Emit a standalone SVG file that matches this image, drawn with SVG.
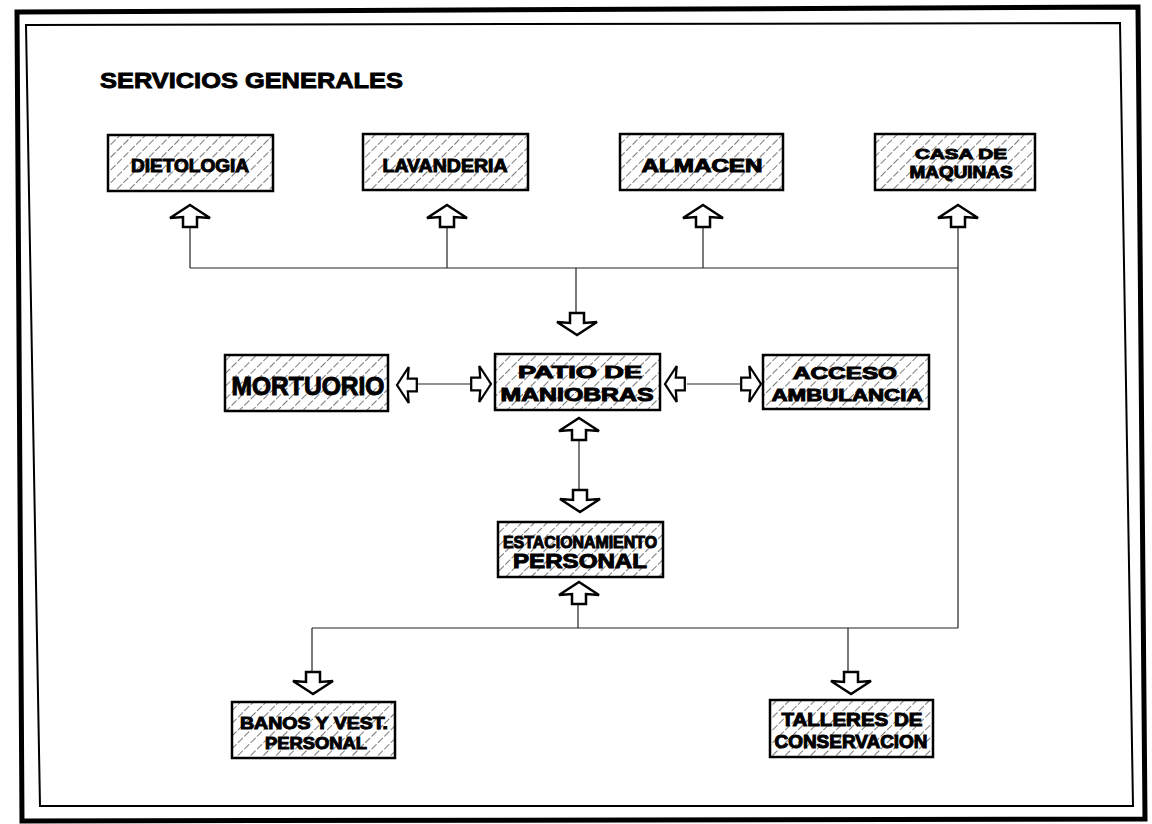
<svg xmlns="http://www.w3.org/2000/svg" width="1152" height="824" viewBox="0 0 1152 824">
<style>
.box{fill:url(#hatch);stroke:#000;stroke-width:2.5}
.lbl{font-family:"Liberation Sans",Arial,sans-serif;font-weight:bold;fill:#000;stroke:#000;stroke-width:1;text-anchor:middle}
.title{font-family:"Liberation Sans",Arial,sans-serif;font-weight:bold;font-size:22px;fill:#000;stroke:#000;stroke-width:0.9}
.ln{stroke:#222;stroke-width:1.2;fill:none}
.arr{fill:#fff;stroke:#000;stroke-width:2.5;stroke-linejoin:miter}
</style>
<defs>
<pattern id="hatch" patternUnits="userSpaceOnUse" width="9" height="9" patternTransform="rotate(45)">
<rect width="9" height="9" fill="#fff"/>
<line x1="0" y1="0" x2="0" y2="9" stroke="#222" stroke-width="1.2" stroke-dasharray="6 2"/>
</pattern>
<path id="au" d="M0,0 L20,13 L7,12 L7,22 L-7,22 L-7,12 L-20,13 Z"/>
</defs>
<rect width="1152" height="824" fill="#fff"/>
<polygon points="17,12 1138,7 1145,819 22,821" fill="none" stroke="#000" stroke-width="5"/>
<polygon points="26,25 1120,23 1133,806 40,806" fill="none" stroke="#000" stroke-width="2"/>
<text class="title" x="100" y="88" textLength="303" lengthAdjust="spacingAndGlyphs">SERVICIOS GENERALES</text>

<g id="connectors">
<path class="ln" d="M190,227 V268 M447,227 V268 M703,227 V268 M190,268 H958 M958,227 V628 M576,268 V313"/>
<path class="ln" d="M579,440 V490 M578,604 V628 M312,628 H958 M312,628 V672 M848,628 V672"/>
<path class="ln" d="M418,384 H470 M687,384 H740"/>
<g class="arr">
<use href="#au" transform="translate(190,205)"/>
<use href="#au" transform="translate(447,205)"/>
<use href="#au" transform="translate(703,205)"/>
<use href="#au" transform="translate(958,205)"/>
<use href="#au" transform="translate(577,335) rotate(180)"/>
<use href="#au" transform="translate(579,418)"/>
<use href="#au" transform="translate(580,512) rotate(180)"/>
<use href="#au" transform="translate(579,582)"/>
<use href="#au" transform="translate(313,694) rotate(180)"/>
<use href="#au" transform="translate(851,694) rotate(180)"/>
<use href="#au" transform="translate(397,385) rotate(-90) scale(0.9)"/>
<use href="#au" transform="translate(491,384) rotate(90) scale(0.9)"/>
<use href="#au" transform="translate(665,384) rotate(-90) scale(0.9)"/>
<use href="#au" transform="translate(761,384) rotate(90) scale(0.9)"/>
</g>
</g>

<g id="dietologia">
<rect class="box" x="108" y="135" width="165" height="56"/>
<text class="lbl" x="190" y="172" font-size="18" textLength="118" lengthAdjust="spacingAndGlyphs">DIETOLOGIA</text>
</g>
<g id="lavanderia">
<rect class="box" x="363" y="134" width="165" height="56"/>
<text class="lbl" x="445" y="172" font-size="18" textLength="125" lengthAdjust="spacingAndGlyphs">LAVANDERIA</text>
</g>
<g id="almacen">
<rect class="box" x="620" y="134" width="163" height="56"/>
<text class="lbl" x="702" y="172" font-size="18" textLength="121" lengthAdjust="spacingAndGlyphs">ALMACEN</text>
</g>
<g id="casa">
<rect class="box" x="875" y="134" width="160" height="56"/>
<text class="lbl" x="961" y="159" font-size="15" textLength="92" lengthAdjust="spacingAndGlyphs">CASA DE</text>
<text class="lbl" x="961" y="178" font-size="16" textLength="103" lengthAdjust="spacingAndGlyphs">MAQUINAS</text>
</g>
<g id="mortuorio">
<rect class="box" x="225" y="355" width="163" height="56"/>
<text class="lbl" x="308" y="395" font-size="25" textLength="153" lengthAdjust="spacingAndGlyphs">MORTUORIO</text>
</g>
<g id="patio">
<rect class="box" x="495" y="354" width="165" height="56"/>
<text class="lbl" x="580" y="378" font-size="17" textLength="124" lengthAdjust="spacingAndGlyphs">PATIO DE</text>
<text class="lbl" x="577" y="401" font-size="18" textLength="153" lengthAdjust="spacingAndGlyphs">MANIOBRAS</text>
</g>
<g id="acceso">
<rect class="box" x="763" y="355" width="166" height="54"/>
<text class="lbl" x="845" y="379" font-size="17" textLength="104" lengthAdjust="spacingAndGlyphs">ACCESO</text>
<text class="lbl" x="847" y="401" font-size="17" textLength="151" lengthAdjust="spacingAndGlyphs">AMBULANCIA</text>
</g>
<g id="estacionamiento">
<rect class="box" x="498" y="522" width="165" height="55"/>
<text class="lbl" x="580" y="548" font-size="16" textLength="154" lengthAdjust="spacingAndGlyphs">ESTACIONAMIENTO</text>
<text class="lbl" x="580" y="568" font-size="20" textLength="134" lengthAdjust="spacingAndGlyphs">PERSONAL</text>
</g>
<g id="banos">
<rect class="box" x="232" y="702" width="163" height="56"/>
<text class="lbl" x="314" y="729" font-size="17" textLength="148" lengthAdjust="spacingAndGlyphs">BANOS Y VEST.</text>
<text class="lbl" x="316" y="749" font-size="17" textLength="102" lengthAdjust="spacingAndGlyphs">PERSONAL</text>
</g>
<g id="talleres">
<rect class="box" x="770" y="700" width="163" height="57"/>
<text class="lbl" x="852" y="726" font-size="18" textLength="141" lengthAdjust="spacingAndGlyphs">TALLERES DE</text>
<text class="lbl" x="851" y="748" font-size="18" textLength="153" lengthAdjust="spacingAndGlyphs">CONSERVACION</text>
</g>
</svg>
